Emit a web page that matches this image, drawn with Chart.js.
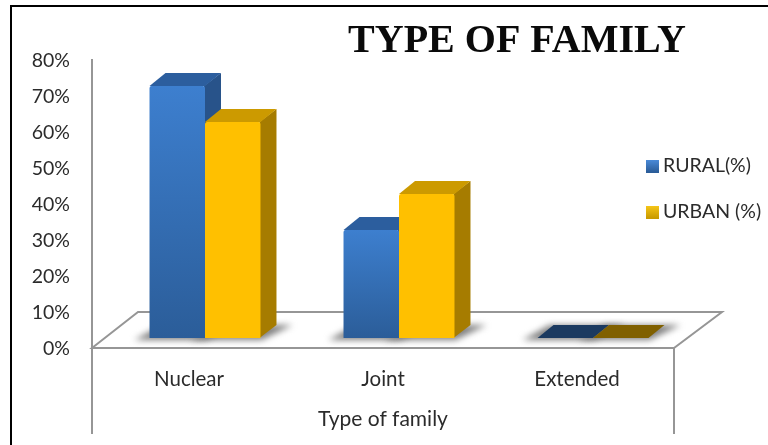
<!DOCTYPE html>
<html lang="en">

<head>
    <meta charset="UTF-8">
    <title>Type of family</title>
    <style>
        html, body {
            margin: 0;
            background: #fff;
            overflow: hidden;
        }

        canvas {
            display: block;
        }
    </style>
</head>

<body>
    <canvas id="familyChart" width="768" height="445"></canvas>

    <script src="https://cdn.jsdelivr.net/npm/chart.js"></script>
    <script>
        const categories = ["Nuclear", "Joint", "Extended"];
        const ruralValues = [70, 30, 0];
        const urbanValues = [60, 40, 0];
        const seriesNames = ["RURAL(%)", "URBAN (%)"];
        const tickValues = [0, 10, 20, 30, 40, 50, 60, 70, 80];

        const titleText = "TYPE OF FAMILY";
        const axisTitleText = "Type of family";

        // Face colours per series: rural first, urban second
        const frontTop = ["#3d7fcf", "#ffc000"];
        const frontBottom = ["#2b5d99", "#ffc000"];
        const sideColors = ["#28538a", "#a67c00"];
        const topColors = ["#2c5e9e", "#cc9a00"];
        const flatColors = ["#1b3a60", "#806000"];

        const LINE = "#969696";
        const TEXT = "#2b2b2b";
        const FONT = "Lato, 'Noto Sans', sans-serif";
        const FONT_SIZE = 19.5;

        // Bars stand on the floor, a little behind the front edge
        const FLOOR = { dx: 46, dy: -36 };
        const BAR_OFFSET = { dx: 16, dy: -10 };
        const BAR_DEPTH = { dx: 16, dy: -13 };
        const WALL_BOTTOM = 434;

        function fillPoly(ctx, pts, color) {
            ctx.fillStyle = color;
            ctx.beginPath();
            pts.forEach((p, i) => i ? ctx.lineTo(p[0], p[1]) : ctx.moveTo(p[0], p[1]));
            ctx.closePath();
            ctx.fill();
        }

        function barGradient(context, i) {
            const y = context.chart.scales.y;
            const top = y ? y.getPixelForValue(context.raw) : NaN;
            const base = y ? y.getPixelForValue(0) : NaN;
            if (!Number.isFinite(top) || !Number.isFinite(base)) return frontTop[i];
            const g = context.chart.ctx.createLinearGradient(0, top, 0, base);
            g.addColorStop(0, frontTop[i]);
            g.addColorStop(1, frontBottom[i]);
            return g;
        }

        function drawFloor(chart) {
            const ctx = chart.ctx;
            const { left, right, bottom } = chart.chartArea;

            ctx.strokeStyle = LINE;
            ctx.lineWidth = 2;
            ctx.lineJoin = "miter";
            ctx.beginPath();
            ctx.moveTo(left, bottom);
            ctx.lineTo(left + FLOOR.dx, bottom + FLOOR.dy);
            ctx.lineTo(right + FLOOR.dx + 2, bottom + FLOOR.dy);
            ctx.lineTo(right, bottom);
            ctx.closePath();
            ctx.stroke();

            // walls running down past the category labels
            ctx.beginPath();
            ctx.moveTo(left, bottom);
            ctx.lineTo(left, WALL_BOTTOM);
            ctx.moveTo(right, bottom);
            ctx.lineTo(right, WALL_BOTTOM);
            ctx.stroke();
        }

        function drawBarFaces(chart) {
            const ctx = chart.ctx;
            const d = BAR_DEPTH;
            const metas = [chart.getDatasetMeta(0), chart.getDatasetMeta(1)];

            // soft shadows on the floor
            ctx.save();
            ctx.filter = "blur(3px)";
            metas.forEach(meta => meta.data.forEach(bar => {
                const x0 = bar.x - bar.width / 2;
                const x1 = bar.x + bar.width / 2;
                const b = bar.base;
                fillPoly(ctx, [[x0 - 15, b + 2], [x1 + 1, b + 2], [x1 + d.dx + 16, b + d.dy], [x0 + d.dx - 4, b + d.dy]], "#808080");
            }));
            ctx.restore();

            metas.forEach((meta, s) => meta.data.forEach(bar => {
                const x0 = bar.x - bar.width / 2;
                const x1 = bar.x + bar.width / 2;
                const flat = Math.abs(bar.base - bar.y) < 1;
                if (!flat) {
                    fillPoly(ctx, [[x1 - 1, bar.y], [x1 + d.dx, bar.y + d.dy], [x1 + d.dx, bar.base + d.dy], [x1 - 1, bar.base]], sideColors[s]);
                }
                fillPoly(ctx, [[x0, bar.y], [x0 + d.dx, bar.y + d.dy], [x1 + d.dx, bar.y + d.dy], [x1, bar.y]], flat ? flatColors[s] : topColors[s]);
            }));
        }

        function drawFrameAndTitle(chart) {
            const ctx = chart.ctx;

            ctx.fillStyle = "#000";
            ctx.fillRect(10, 5, 758, 2);
            ctx.fillRect(10, 5, 2, 440);

            ctx.fillStyle = "#0a0a0a";
            ctx.font = "bold 40px 'Liberation Serif', serif";
            ctx.textAlign = "center";
            ctx.textBaseline = "alphabetic";
            ctx.fillText(titleText, 517, 52);
        }

        function drawLegend(chart) {
            const ctx = chart.ctx;
            const rows = [166, 212];

            rows.forEach((y, i) => {
                const g = ctx.createLinearGradient(0, y - 6, 0, y + 6);
                g.addColorStop(0, i ? "#f5c518" : "#4a8ad8");
                g.addColorStop(1, i ? "#c99a00" : "#2b5d99");
                ctx.fillStyle = g;
                ctx.fillRect(646, y - 6, 13, 13);

                ctx.fillStyle = TEXT;
                ctx.font = FONT_SIZE + "px " + FONT;
                ctx.textAlign = "left";
                ctx.textBaseline = "middle";
                ctx.fillText(seriesNames[i], 663, y);
            });
        }

        const depthPlugin = {
            id: "depth",
            beforeDraw: drawFrameAndTitle,
            beforeDatasetsDraw(chart) {
                const ctx = chart.ctx;
                drawFloor(chart);
                ctx.save();
                ctx.translate(BAR_OFFSET.dx, BAR_OFFSET.dy);
                drawBarFaces(chart);
            },
            afterDatasetsDraw(chart) {
                chart.ctx.restore();
                drawLegend(chart);
            }
        };

        new Chart(document.getElementById("familyChart"), {
            type: "bar",
            data: {
                labels: categories,
                datasets: [
                    { label: seriesNames[0], data: ruralValues, backgroundColor: c => barGradient(c, 0), borderRadius: 2, borderSkipped: "bottom", clip: false },
                    { label: seriesNames[1], data: urbanValues, backgroundColor: c => barGradient(c, 1), borderRadius: 2, borderSkipped: "bottom", clip: false }
                ]
            },
            options: {
                responsive: false,
                animation: false,
                layout: { padding: { top: 60, right: 94, left: 0, bottom: 13 } },
                datasets: { bar: { categoryPercentage: 0.572, barPercentage: 1 } },
                plugins: { legend: { display: false }, title: { display: false }, tooltip: { enabled: false } },
                scales: {
                    x: {
                        afterFit: scale => { scale.height = 84; },
                        grid: { display: false },
                        border: { display: false },
                        ticks: { color: TEXT, font: { family: FONT, size: 20.5 }, padding: 11, maxRotation: 0 },
                        title: { display: true, text: axisTitleText, color: TEXT, font: { family: FONT, size: 21 }, padding: { top: 19, bottom: 0 } }
                    },
                    y: {
                        min: 0,
                        max: 80,
                        afterFit: scale => { scale.width = 92; },
                        afterBuildTicks: scale => { scale.ticks = tickValues.map(v => ({ value: v })); },
                        grid: { display: false, drawTicks: false },
                        border: { display: true, color: LINE, width: 2 },
                        ticks: { color: TEXT, font: { family: FONT, size: FONT_SIZE }, padding: 22, labelOffset: 1, callback: v => v + "%" }
                    }
                }
            },
            plugins: [depthPlugin]
        });
    </script>
</body>

</html>
